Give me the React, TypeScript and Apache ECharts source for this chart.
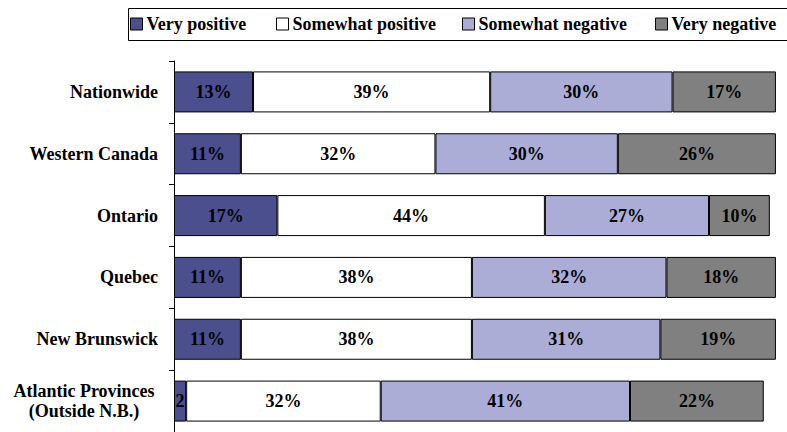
import React, { useEffect, useRef } from "react";
import * as echarts from "echarts";

const categories = [
  "Nationwide",
  "Western Canada",
  "Ontario",
  "Quebec",
  "New Brunswick",
  "Atlantic Provinces\n(Outside N.B.)",
];
const seriesNames = ["Very positive", "Somewhat positive", "Somewhat negative", "Very negative"];
const veryPositive = [13, 11, 17, 11, 11, 2];
const somewhatPositive = [39, 32, 44, 38, 38, 32];
const somewhatNegative = [30, 30, 27, 32, 31, 41];
const veryNegative = [17, 26, 10, 18, 19, 22];
const colors = ["#4B4F8E", "#FFFFFF", "#ABADD6", "#808080"];
const legendLefts = [130, 276, 462, 655];

const FONT = "'Liberation Serif', 'Times New Roman', serif";

export default function App() {
  const ref = useRef<HTMLDivElement>(null);
  useEffect(() => {
    if (!ref.current) return;
    const chart = echarts.init(ref.current, null, { renderer: "svg" });
    const values = [veryPositive, somewhatPositive, somewhatNegative, veryNegative];
    const txt = { fontFamily: FONT, fontWeight: "bold", fontSize: 18, color: "#000" };
    const option: any = {
      animation: false,
      backgroundColor: "#ffffff",
      graphic: [
        {
          type: "rect",
          shape: { x: 128.5, y: 8.5, width: 700, height: 32 },
          style: { fill: "none", stroke: "#000", lineWidth: 1 },
          z: 0,
        },
      ],
      legend: seriesNames.map((n, i) => ({
        data: [n],
        left: legendLefts[i],
        top: 15,
        padding: 0,
        icon: "rect",
        itemWidth: 12,
        itemHeight: 12,
        itemGap: 6,
        selectedMode: false,
        itemStyle: { borderColor: "#000", borderWidth: 1 },
        textStyle: { ...txt, padding: [0, 0, 0, -1] },
      })),
      grid: { left: 174, right: 5, top: 61, bottom: -2, containLabel: false },
      xAxis: { type: "value", min: 0, max: 100, show: false },
      yAxis: {
        type: "category",
        inverse: true,
        data: categories,
        axisLine: { show: true, lineStyle: { color: "#000", width: 1 } },
        axisTick: { show: true, length: 5, lineStyle: { color: "#000" } },
        axisLabel: {
          ...txt,
          margin: 16,
          align: "right",
          lineHeight: 20,
          formatter: (v: string) =>
            v.indexOf("\n") >= 0
              ? v
                  .split("\n")
                  .map((l) => "{c|" + l + "}")
                  .join("\n")
              : v,
          rich: {
            c: { ...txt, width: 148, align: "center", lineHeight: 20 },
          },
        },
        splitLine: { show: false },
      },
      series: seriesNames.map((n, i) => ({
        name: n,
        type: "bar",
        stack: "total",
        data: values[i],
        barWidth: 41,
        itemStyle: { color: colors[i], borderColor: "#000", borderWidth: 1 },
        label: {
          show: true,
          position: "inside",
          ...txt,
          formatter: (p: any) => (p.value < 5 ? String(p.value) : p.value + "%"),
        },
      })),
    };
    chart.setOption(option);
    return () => chart.dispose();
  }, []);
  return <div ref={ref} style={{ width: 787, height: 432, position: "absolute", left: 0, top: 0 }} />;
}
